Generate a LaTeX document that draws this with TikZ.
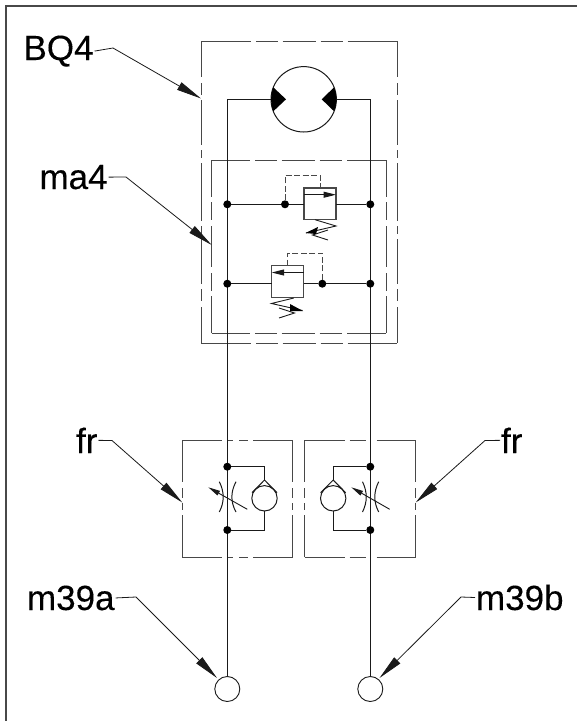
\documentclass[tikz,border=0pt]{standalone}
\usepackage{fontspec}
\setmainfont{Liberation Sans}
\newfontfamily\lblfont[FakeBold=0.2]{Liberation Sans}
\usetikzlibrary{arrows.meta}
\definecolor{boxgray}{HTML}{484848}
\definecolor{linek}{HTML}{1A1A1A}
\tikzset{
  pipe/.style={line width=1pt,draw=linek},
  chain/.style={line width=1pt,draw=boxgray},
  pilot/.style={line width=1pt,draw=boxgray,dash pattern=on 6pt off 2.5pt},
  valvebox/.style={line width=1.3pt,draw=boxgray},
  junction/.style={circle,fill=black,minimum size=8pt,inner sep=0pt,outer sep=0pt},
  gauge/.style={circle,draw=linek,line width=0.9pt,minimum size=25pt,inner sep=0pt,outer sep=0pt,fill=white},
  motorc/.style={circle,draw=linek,line width=1pt,minimum size=65.4pt,inner sep=0pt,outer sep=0pt},
  checkc/.style={circle,draw=linek,line width=1pt,minimum size=25.4pt,inner sep=0pt,outer sep=0pt},
  label/.style={anchor=base west,inner sep=1pt,outer sep=0pt,font=\lblfont\fontsize{35}{40}\selectfont},
  leader/.style={line width=0.8pt,draw=linek,-{Triangle[length=25pt,width=8.5pt]}},
  thin arrow/.style={line width=0.9pt,draw=linek,-{Triangle[length=12pt,width=5pt]}},
  inner arrow/.style={line width=1pt,draw=linek,-{Triangle[length=12.5pt,width=6pt]}},
  spring/.style={line width=0.9pt,draw=linek,line join=miter},
}
\newcommand{\chainbox}[6]{%
  \draw[chain,dash pattern=#5] (#1,#2) -- (#3,#2);
  \draw[chain,dash pattern=#5] (#1,#4) -- (#3,#4);
  \draw[chain,dash pattern=#6] (#1,#2) -- (#1,#4);
  \draw[chain,dash pattern=#6] (#3,#2) -- (#3,#4);
}
\begin{document}
\begin{tikzpicture}[x=1pt,y=-1pt]
\useasboundingbox (0,0) rectangle (577,721);
\fill[white] (0,0) rectangle (577,721);
% outer frame
\draw[line width=1.2pt,draw=boxgray] (6,721) -- (6,6) -- (577,6);

% chain boxes
\chainbox{201}{41}{397}{343}{on 50pt off 5pt on 21.5pt off 5pt on 33pt off 5pt on 22pt off 5pt on 50pt}{on 36pt off 6pt on 12pt off 5pt on 45pt off 5pt on 8pt off 5pt on 58pt off 5pt on 8pt off 5pt on 45pt off 5pt on 12pt off 6pt on 36pt}
\chainbox{211.7}{160}{386}{333}{on 38pt off 5.5pt on 21.5pt off 5pt on 33pt off 5pt on 22pt off 5.5pt on 38.5pt}{on 37pt off 5pt on 18pt off 6pt on 41pt off 6pt on 18pt off 5pt on 37pt}
\chainbox{182.3}{440.3}{292.7}{557}{on 40pt off 5pt on 6pt off 6pt on 9pt off 5pt on 40pt}{on 42pt off 6pt on 10pt off 5pt on 7pt off 5pt on 42pt}
\chainbox{304.7}{440.3}{415.7}{557}{on 40pt off 5pt on 16pt off 11pt on 40pt}{on 42pt off 6pt on 10pt off 5pt on 7pt off 5pt on 42pt}

% motor
\node[motorc] (motor) at (303.7,99.3) {};
% gauges
\node[gauge] (gA) at (227.3,689) {};
\node[gauge] (gB) at (370.3,689) {};
% corners
\coordinate (tl) at (227.3,99.3);
\coordinate (tr) at (370.3,99.3);
\draw[pipe] (motor.west) -- (tl) -- (gA.north);
\draw[pipe] (motor.east) -- (tr) -- (gB.north);
\fill[black] (273.3,87.3) -- (286,99.3) -- (273.3,111.3) -- (271.6,105.6) -- (271,99.3) -- (271.6,93) -- cycle;
\fill[black] (334.1,87.3) -- (321.7,99.3) -- (334.1,111.3) -- (335.8,105.6) -- (336.4,99.3) -- (335.8,93) -- cycle;

% relief valve 1
\node[junction] (a1) at (227.3,204.3) {};
\node[junction] (a2) at (285,204.3) {};
\node[junction] (a3) at (370.3,204.3) {};
\node[valvebox,draw,minimum width=32pt,minimum height=31.7pt,inner sep=0pt,outer sep=0pt] (v1) at (320,203.8) {};
\draw[pipe] (a1) -- (a2) -- (v1.west |- a2);
\draw[pipe] (v1.east |- a3) -- (a3);
\coordinate (p1a) at (285,175.3);
\coordinate (p1b) at (320,175.3);
\draw[pilot] (a2) -- (p1a) -- (p1b) -- (v1.north);
\coordinate (i1a) at (304,194.7);
\coordinate (i1b) at (336,194.7);
\draw[inner arrow] (i1a) -- (i1b);
\draw[spring] (315,219.7) -- (336,226) -- (306,233);
\draw[spring] (328,230) -- (312.5,235) -- (328,240);
\fill[black] (305.5,233) -- (318,227) -- (316,234) -- cycle;

% relief valve 2
\node[junction] (b1) at (227.3,283.7) {};
\node[junction] (b2) at (322.3,283.7) {};
\node[junction] (b3) at (370.3,283.7) {};
\node[valvebox,draw,minimum width=32pt,minimum height=31.7pt,inner sep=0pt,outer sep=0pt] (v2) at (287.7,281.5) {};
\draw[pipe] (b1) -- (v2.west |- b1);
\draw[pipe] (v2.east |- b2) -- (b2) -- (b3);
\coordinate (p2a) at (322.3,253);
\coordinate (p2b) at (287.7,253);
\draw[pilot] (b2) -- (p2a) -- (p2b) -- (v2.north);
\coordinate (i2a) at (303.7,272.5);
\coordinate (i2b) at (271.7,272.5);
\draw[inner arrow] (i2a) -- (i2b);
\draw[spring] (293.7,298) -- (271.5,303.5) -- (302.5,310.5);
\draw[spring] (279,308) -- (294.5,313) -- (279,318);
\fill[black] (303,311) -- (290,304) -- (290,311) -- cycle;

% flow regulator left
\node[junction] (c1) at (227.3,466.7) {};
\node[junction] (c2) at (227.3,530) {};
\node[checkc] (ck1) at (264.5,498.3) {};
\coordinate (c1t) at (264.5,466.7);
\coordinate (c1b) at (264.5,530);
\coordinate (c1v) at (264.5,480);
\draw[pipe] (c1) -- (c1t) -- (c1v);
\draw[pipe] (ck1.south) -- (c1b) -- (c2);
\draw[pipe] (252,492.7) -- (c1v) -- (277,492.7);
\draw[pipe] (219.3,481.7) .. controls (224.5,492) and (224.5,502) .. (219.3,512);
\draw[pipe] (236,481.7) .. controls (230.5,492) and (230.5,502) .. (236,512);
\coordinate (d1s) at (247.3,509.3);
\coordinate (d1e) at (208.3,487.3);
\draw[thin arrow] (d1s) -- (d1e);

% flow regulator right
\node[junction] (e1) at (370.3,466.7) {};
\node[junction] (e2) at (370.3,530) {};
\node[checkc] (ck2) at (333.2,498.3) {};
\coordinate (e1t) at (333.2,466.7);
\coordinate (e1b) at (333.2,530);
\coordinate (e1v) at (333.2,480);
\draw[pipe] (e1) -- (e1t) -- (e1v);
\draw[pipe] (ck2.south) -- (e1b) -- (e2);
\draw[pipe] (320.7,492.7) -- (e1v) -- (345.7,492.7);
\draw[pipe] (362.5,481.7) .. controls (367.5,492) and (367.5,502) .. (362.5,512);
\draw[pipe] (378.7,481.7) .. controls (373.5,492) and (373.5,502) .. (378.7,512);
\coordinate (d2s) at (389.7,509.3);
\coordinate (d2e) at (351.3,487.3);
\draw[thin arrow] (d2s) -- (d2e);

% labels
\node[label] (tBQ) at (22.5,60) {BQ4};
\node[label] (tma) at (38.5,189) {ma4};
\node[label] (tfrA) at (75,453) {fr};
\node[label] (tfrB) at (500,453) {fr};
\node[label] (tmA) at (26,610) {m39a};
\node[label] (tmB) at (475,610) {m39b};

% leader targets
\coordinate (eBQ) at (113,48);
\coordinate (kBQ) at (201,98.5);
\coordinate (ema) at (126,177);
\coordinate (kma) at (211.7,245);
\coordinate (efA) at (112,440.5);
\coordinate (kfA) at (182.3,502.5);
\coordinate (efB) at (485,440.5);
\coordinate (kfB) at (415.7,502.5);
\coordinate (emA) at (136,597);
\coordinate (kmA) at (217,678);
\coordinate (emB) at (461,597);
\coordinate (kmB) at (379.5,678);
\draw[leader] (tBQ.east) -- (eBQ) -- (kBQ);
\draw[leader] (tma.east) -- (ema) -- (kma);
\draw[leader] (tfrA.east) -- (efA) -- (kfA);
\draw[leader] (tfrB.west) -- (efB) -- (kfB);
\draw[leader] (tmA.east) -- (emA) -- (kmA);
\draw[leader] (tmB.west) -- (emB) -- (kmB);
\end{tikzpicture}
\end{document}
